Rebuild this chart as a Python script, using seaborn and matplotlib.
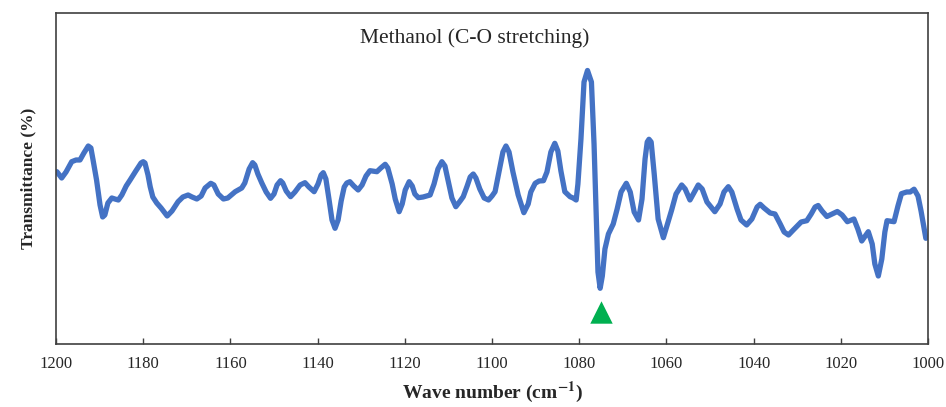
import numpy as np
import matplotlib
matplotlib.use("Agg")
import matplotlib.pyplot as plt
import pandas as pd
import seaborn as sns

# Spectrum (wave number, transmittance in arbitrary units)
wave_number = [1199.8, 1198.7, 1197.7, 1196.4, 1195.4, 1194.5, 1193.6, 1192.6, 1192.0, 1191.5,
               1190.7, 1189.9, 1189.3, 1188.8, 1188.1, 1187.2, 1186.5, 1185.7, 1184.9, 1183.9,
               1183.0, 1181.7, 1180.5, 1180.0, 1179.6, 1178.9, 1178.4, 1177.8, 1176.9, 1175.9,
               1174.5, 1173.4, 1172.0, 1170.9, 1169.7, 1168.8, 1167.7, 1166.7, 1165.8, 1164.5,
               1163.8, 1162.8, 1161.6, 1160.6, 1158.9, 1157.4, 1156.7, 1155.7, 1154.9, 1154.4,
               1153.7, 1152.8, 1151.8, 1150.8, 1150.0, 1149.3, 1148.5, 1148.0, 1147.2, 1146.2,
               1145.2, 1144.0, 1142.9, 1142.0, 1140.8, 1139.9, 1139.2, 1138.7, 1138.1, 1137.4,
               1136.7, 1136.0, 1135.3, 1134.6, 1133.9, 1133.3, 1132.6, 1131.7, 1130.7, 1129.8,
               1128.9, 1128.0, 1126.4, 1125.5, 1124.5, 1123.9, 1122.9, 1122.2, 1121.3, 1120.6,
               1119.9, 1119.0, 1118.3, 1117.7, 1116.9, 1115.8, 1114.2, 1113.3, 1112.4, 1111.5,
               1110.8, 1109.9, 1109.2, 1108.3, 1107.3, 1106.6, 1105.7, 1105.0, 1104.3, 1103.7,
               1102.8, 1101.8, 1100.8, 1100.0, 1099.3, 1098.4, 1097.5, 1096.8, 1096.1, 1095.2,
               1094.0, 1092.7, 1091.7, 1091.1, 1090.1, 1089.2, 1088.2, 1087.4, 1086.5, 1085.6,
               1084.9, 1084.2, 1083.3, 1082.1, 1081.4, 1080.7, 1080.3, 1079.6, 1078.9, 1078.1,
               1077.2, 1076.6, 1076.1, 1075.7, 1075.2, 1074.7, 1074.1, 1073.3, 1072.2, 1071.3,
               1070.4, 1069.2, 1068.3, 1067.4, 1066.4, 1065.6, 1064.9, 1064.4, 1064.0, 1063.5,
               1062.8, 1061.9, 1060.7, 1059.9, 1058.8, 1057.8, 1056.5, 1055.7, 1054.6, 1053.7,
               1052.7, 1051.8, 1050.7, 1048.9, 1047.7, 1046.8, 1045.8, 1045.0, 1043.8, 1042.9,
               1041.6, 1040.4, 1039.2, 1038.5, 1037.6, 1036.2, 1035.1, 1033.9, 1033.0, 1032.0,
               1030.9, 1029.1, 1027.8, 1026.8, 1025.9, 1025.2, 1024.3, 1023.2, 1022.0, 1020.8,
               1019.7, 1018.5, 1017.0, 1016.1, 1015.2, 1014.4, 1013.7, 1012.8, 1012.2, 1011.4,
               1010.6, 1009.9, 1009.4, 1007.8, 1006.9, 1006.1, 1004.9, 1004.1, 1003.2, 1002.3,
               1001.6, 1000.5]
transmittance = [172.3, 166.0, 172.0, 182.3, 184.0, 184.0, 191.0, 198.0, 196.0, 184.0,
                 164.0, 139.0, 127.0, 129.0, 141.0, 146.0, 145.0, 144.0, 149.0, 158.0,
                 164.0, 173.0, 181.0, 182.3, 181.0, 169.0, 157.3, 147.0, 141.0, 136.0,
                 128.0, 133.0, 142.3, 147.0, 149.0, 147.0, 145.0, 148.0, 156.0, 160.7,
                 159.0, 150.0, 145.0, 146.0, 152.3, 156.0, 161.0, 175.0, 181.3, 179.0,
                 170.0, 161.0, 152.0, 145.7, 150.0, 159.0, 163.3, 161.0, 153.0, 147.3,
                 152.0, 159.0, 161.3, 157.0, 152.3, 160.0, 169.0, 171.3, 165.0, 145.0,
                 124.0, 115.7, 124.0, 143.0, 157.0, 161.0, 162.3, 158.0, 154.0, 159.0,
                 168.0, 173.3, 172.3, 176.0, 179.7, 176.0, 160.0, 145.0, 132.3, 140.0,
                 154.0, 162.3, 158.0, 150.0, 146.3, 147.0, 149.0, 160.0, 175.0, 182.3,
                 178.0, 160.0, 146.0, 137.3, 143.0, 147.3, 158.0, 167.0, 170.0, 166.0,
                 155.0, 146.0, 144.0, 148.0, 152.3, 172.0, 192.0, 198.0, 192.0, 172.0,
                 149.0, 131.3, 140.0, 152.0, 160.7, 163.0, 163.3, 172.0, 192.0, 200.7,
                 193.0, 173.0, 152.3, 147.3, 146.0, 144.0, 160.0, 205.0, 262.0, 273.5,
                 262.0, 200.0, 130.0, 72.0, 55.7, 68.0, 95.0, 110.0, 120.0, 135.0,
                 152.0, 160.7, 152.0, 132.0, 124.0, 145.0, 185.0, 202.0, 204.7, 202.0,
                 170.0, 125.0, 106.3, 118.0, 134.0, 150.0, 159.0, 155.0, 144.0, 151.0,
                 159.0, 155.0, 142.0, 132.3, 140.0, 152.0, 157.3, 152.0, 135.0, 124.0,
                 119.0, 125.0, 137.0, 139.7, 136.0, 131.0, 130.0, 120.0, 112.0, 109.0,
                 114.0, 122.0, 123.3, 130.0, 137.0, 138.5, 133.0, 127.5, 130.0, 132.5,
                 129.0, 122.3, 125.0, 115.0, 103.0, 108.0, 112.3, 100.0, 80.0, 68.0,
                 85.0, 112.0, 123.3, 122.3, 138.0, 150.3, 152.0, 152.0, 154.8, 148.0,
                 133.0, 105.7]

marker_x = [1075.0]
marker_y = [32.0]

df = pd.DataFrame({'wave': wave_number, 'T': transmittance})

sns.set_style('white')
plt.rcParams['font.family'] = ['Liberation Serif', 'DejaVu Serif']
plt.rcParams['mathtext.fontset'] = 'stix'

fig = plt.figure(figsize=(9.46, 4.07), dpi=100)
ax = fig.add_axes([0.0592, 0.1548, 0.9218, 0.8133])

sns.lineplot(data=df, x='wave', y='T', sort=False, estimator=None, color='#4472C4',
             linewidth=3.8, ax=ax)
ax.lines[0].set_solid_joinstyle('round')
ax.lines[0].set_solid_capstyle('round')
ax.scatter(marker_x, marker_y, marker='^', s=260, color='#00B050', zorder=3, linewidths=0)

ax.set_xlim(1200, 1000)
ax.set_ylim(0, 331)
ax.set_xticks(np.arange(1200, 999, -20))
ax.set_yticks([])
ax.tick_params(axis='x', direction='in', length=4, width=1, pad=9, labelsize=12,
               color='#404040', bottom=True)

for s in ax.spines.values():
    s.set_visible(True)
    s.set_color('#404040')
    s.set_linewidth(1.2)

ax.text(0.48, 0.925, 'Methanol (C-O stretching)', transform=ax.transAxes,
        ha='center', va='center', fontsize=15.5)
ax.set_xlabel(r'Wave number (cm$^{\mathbf{-1}}$)', fontsize=14, fontweight='bold', labelpad=5)
ax.set_ylabel('Transmittance (%)', fontsize=12.5, fontweight='bold', labelpad=14)

fig.savefig('out.png', dpi=100)
